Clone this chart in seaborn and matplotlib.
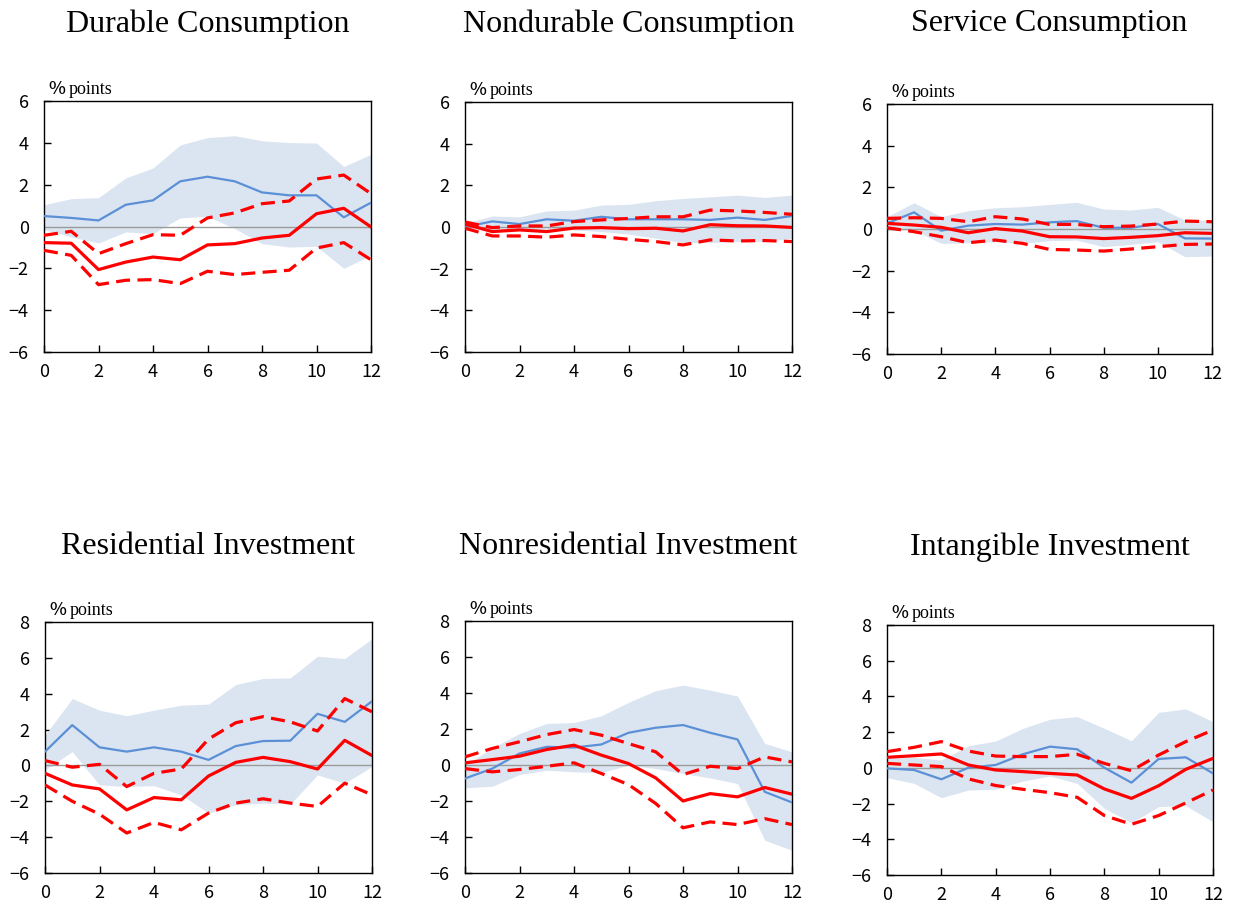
import numpy as np
import pandas as pd
import matplotlib
matplotlib.use("Agg")
import matplotlib.pyplot as plt
import seaborn as sns

# Horizon (quarters)
horizon = list(range(13))

panel_titles = ["Durable Consumption", "Nondurable Consumption", "Service Consumption",
                "Residential Investment", "Nonresidential Investment", "Intangible Investment"]

# Durable consumption
durable_blue = [0.50, 0.41, 0.29, 1.04, 1.25, 2.16, 2.38, 2.16, 1.63, 1.49, 1.49, 0.44, 1.14]
durable_blue_hi = [1.04, 1.33, 1.38, 2.32, 2.80, 3.90, 4.25, 4.34, 4.10, 4.01, 3.99, 2.87, 3.45]
durable_blue_lo = [-0.15, -0.50, -0.79, -0.26, -0.34, 0.41, 0.49, -0.10, -0.82, -0.98, -0.95, -2.00, -1.38]
durable_red = [-0.77, -0.80, -2.06, -1.70, -1.46, -1.59, -0.88, -0.82, -0.55, -0.42, 0.61, 0.87, -0.02]
durable_red_hi = [-0.42, -0.23, -1.30, -0.82, -0.39, -0.42, 0.41, 0.65, 1.09, 1.22, 2.27, 2.46, 1.57]
durable_red_lo = [-1.14, -1.38, -2.78, -2.57, -2.54, -2.73, -2.14, -2.30, -2.19, -2.09, -1.03, -0.77, -1.59]

# Nondurable consumption
nondurable_blue = [0.00, 0.27, 0.14, 0.37, 0.30, 0.49, 0.37, 0.37, 0.37, 0.34, 0.45, 0.34, 0.53]
nondurable_blue_hi = [0.18, 0.53, 0.49, 0.77, 0.81, 1.05, 1.09, 1.26, 1.37, 1.45, 1.53, 1.42, 1.53]
nondurable_blue_lo = [-0.06, -0.14, -0.11, -0.10, -0.14, -0.22, -0.34, -0.54, -0.75, -0.75, -0.70, -0.70, -0.54]
nondurable_red = [0.14, -0.22, -0.14, -0.22, -0.05, -0.03, -0.08, -0.06, -0.19, 0.11, 0.06, 0.05, -0.02]
nondurable_red_hi = [0.24, -0.03, 0.05, 0.05, 0.26, 0.34, 0.41, 0.49, 0.49, 0.81, 0.77, 0.70, 0.61]
nondurable_red_lo = [-0.06, -0.43, -0.43, -0.49, -0.38, -0.46, -0.59, -0.70, -0.86, -0.62, -0.67, -0.65, -0.70]

# Service consumption
service_blue = [0.27, 0.80, -0.08, 0.16, 0.24, 0.21, 0.32, 0.38, 0.06, 0.06, 0.24, -0.45, -0.46]
service_blue_hi = [0.59, 1.26, 0.59, 0.88, 1.02, 1.07, 1.18, 1.28, 0.96, 0.91, 1.04, 0.43, 0.43]
service_blue_lo = [-0.05, -0.05, -0.69, -0.66, -0.61, -0.69, -0.56, -0.53, -0.85, -0.74, -0.61, -1.33, -1.30]
service_red = [0.27, 0.19, 0.08, -0.18, 0.02, -0.10, -0.37, -0.38, -0.46, -0.40, -0.32, -0.18, -0.21]
service_red_hi = [0.51, 0.54, 0.51, 0.35, 0.59, 0.48, 0.22, 0.22, 0.11, 0.14, 0.24, 0.38, 0.35]
service_red_lo = [0.06, -0.13, -0.37, -0.66, -0.53, -0.69, -0.98, -1.01, -1.06, -0.96, -0.85, -0.74, -0.72]

# Residential investment
residential_blue = [0.77, 2.25, 1.01, 0.77, 1.01, 0.77, 0.31, 1.08, 1.36, 1.38, 2.88, 2.43, 3.58]
residential_blue_hi = [1.69, 3.73, 3.08, 2.77, 3.08, 3.36, 3.42, 4.51, 4.85, 4.88, 6.09, 5.96, 7.07]
residential_blue_lo = [-0.25, 0.77, -1.09, -1.18, -1.13, -1.64, -2.66, -2.20, -2.10, -2.16, -0.53, -0.99, -0.06]
residential_red = [-0.44, -1.09, -1.31, -2.48, -1.79, -1.92, -0.59, 0.17, 0.45, 0.21, -0.20, 1.40, 0.55]
residential_red_hi = [0.27, -0.10, 0.06, -1.18, -0.44, -0.20, 1.47, 2.38, 2.72, 2.43, 1.92, 3.73, 2.99]
residential_red_lo = [-1.09, -2.00, -2.72, -3.77, -3.18, -3.59, -2.66, -2.10, -1.86, -2.10, -2.29, -0.99, -1.64]

# Nonresidential investment
nonresidential_blue = [-0.75, -0.20, 0.64, 1.01, 0.97, 1.14, 1.79, 2.07, 2.22, 1.79, 1.42, -1.49, -2.08]
nonresidential_blue_hi = [-0.01, 0.95, 1.75, 2.31, 2.36, 2.73, 3.48, 4.13, 4.44, 4.16, 3.83, 1.20, 0.73]
nonresidential_blue_lo = [-1.27, -1.18, -0.53, -0.29, -0.38, -0.42, -0.01, -0.20, -0.47, -0.72, -1.03, -4.18, -4.74]
nonresidential_red = [0.12, 0.30, 0.49, 0.86, 1.10, 0.55, 0.08, -0.72, -2.00, -1.59, -1.77, -1.25, -1.62]
nonresidential_red_hi = [0.45, 0.92, 1.29, 1.69, 1.97, 1.66, 1.19, 0.73, -0.53, -0.07, -0.20, 0.45, 0.17]
nonresidential_red_lo = [-0.20, -0.38, -0.25, -0.07, 0.12, -0.47, -1.09, -2.14, -3.49, -3.16, -3.31, -2.98, -3.31]

# Intangible investment
intangible_blue = [-0.03, -0.12, -0.64, 0.01, 0.16, 0.76, 1.19, 1.04, 0.01, -0.83, 0.50, 0.59, -0.31]
intangible_blue_hi = [0.53, 0.59, 0.44, 1.24, 1.50, 2.21, 2.72, 2.87, 2.21, 1.52, 3.11, 3.30, 2.59]
intangible_blue_lo = [-0.55, -0.87, -1.67, -1.24, -1.20, -0.74, -0.46, -0.87, -2.27, -3.07, -2.17, -2.12, -3.02]
intangible_red = [0.59, 0.68, 0.78, 0.16, -0.12, -0.21, -0.31, -0.40, -1.18, -1.71, -1.00, -0.08, 0.53]
intangible_red_hi = [0.91, 1.15, 1.47, 0.94, 0.66, 0.63, 0.63, 0.76, 0.25, -0.16, 0.72, 1.47, 2.12]
intangible_red_lo = [0.25, 0.16, 0.07, -0.62, -0.99, -1.20, -1.39, -1.65, -2.67, -3.16, -2.67, -1.96, -1.24]

panels = [
    (durable_blue, durable_blue_lo, durable_blue_hi, durable_red, durable_red_lo, durable_red_hi),
    (nondurable_blue, nondurable_blue_lo, nondurable_blue_hi, nondurable_red, nondurable_red_lo, nondurable_red_hi),
    (service_blue, service_blue_lo, service_blue_hi, service_red, service_red_lo, service_red_hi),
    (residential_blue, residential_blue_lo, residential_blue_hi, residential_red, residential_red_lo, residential_red_hi),
    (nonresidential_blue, nonresidential_blue_lo, nonresidential_blue_hi, nonresidential_red, nonresidential_red_lo, nonresidential_red_hi),
    (intangible_blue, intangible_blue_lo, intangible_blue_hi, intangible_red, intangible_red_lo, intangible_red_hi),
]

y_ranges = [(-6, 6)] * 3 + [(-6, 8)] * 3

sns.set_theme(style="white")
plt.rcParams["font.family"] = ["Noto Sans CJK JP", "DejaVu Sans"]
plt.rcParams["axes.unicode_minus"] = True

SERIF = ["Liberation Serif", "DejaVu Serif"]
W, H = 1237, 906
fig = plt.figure(figsize=(W / 100, H / 100), dpi=100)

# axes boxes in pixels: left, top, right, bottom
boxes = [
    (44, 101, 371, 352), (465, 102, 792, 352), (887, 104, 1212, 354),
    (45, 622, 372, 873), (465, 621, 792, 873), (887, 625, 1213, 875),
]
title_y = [24, 24, 24, 547, 547, 547]

BAND = "#dbe5f1"
BLUE = "#5b8fd6"
RED = "#ff0000"
LW_RED = 2.3

for i, (box, data) in enumerate(zip(boxes, panels)):
    l, t, r, b = box
    ax = fig.add_axes([l / W, 1 - b / H, (r - l) / W, (b - t) / H])
    blue, blo, bhi, red, rlo, rhi = data
    df = pd.DataFrame({"h": horizon, "blue": blue, "red": red, "rlo": rlo, "rhi": rhi})

    ax.fill_between(horizon, blo, bhi, color=BAND, lw=0, zorder=1)
    ax.axhline(0, color="#9a9a9a", lw=1.0, zorder=2)
    sns.lineplot(data=df, x="h", y="blue", ax=ax, color=BLUE, lw=1.6, zorder=3)
    sns.lineplot(data=df, x="h", y="red", ax=ax, color=RED, lw=LW_RED, zorder=4)
    for col in ("rlo", "rhi"):
        sns.lineplot(data=df, x="h", y=col, ax=ax, color=RED, lw=LW_RED, zorder=4,
                     linestyle=(0, (4.4, 2.3)))

    lo, hi = y_ranges[i]
    ax.set_xlim(0, 12)
    ax.set_ylim(lo, hi)
    ax.set_xticks(range(0, 13, 2))
    ax.set_yticks(range(lo, hi + 1, 2))
    ax.set_xlabel("")
    ax.set_ylabel("")
    ax.tick_params(direction="in", length=5, width=1, colors="black",
                   labelsize=13, pad=8, left=True, bottom=True)
    ax.tick_params(axis="y", pad=11)
    for sp in ax.spines.values():
        sp.set_visible(True)
        sp.set_color("black")
        sp.set_linewidth(1.0)
    ax.grid(False)

    # unit label above the plot area: sans "%" followed by serif "points"
    ax.annotate("%", xy=(0, 1), xycoords="axes fraction", xytext=(4, 3),
                textcoords="offset pixels", ha="left", va="bottom",
                fontsize=13, fontweight="medium", color="black")
    ax.annotate("points", xy=(0, 1), xycoords="axes fraction", xytext=(25, 3),
                textcoords="offset pixels", ha="left", va="bottom",
                fontsize=13, family=SERIF, color="black")

    fig.text(((l + r) / 2) / W, 1 - title_y[i] / H, panel_titles[i], ha="center", va="center",
             fontsize=23, family=SERIF, color="black")

fig.savefig("out.png", dpi=100, facecolor="white")
